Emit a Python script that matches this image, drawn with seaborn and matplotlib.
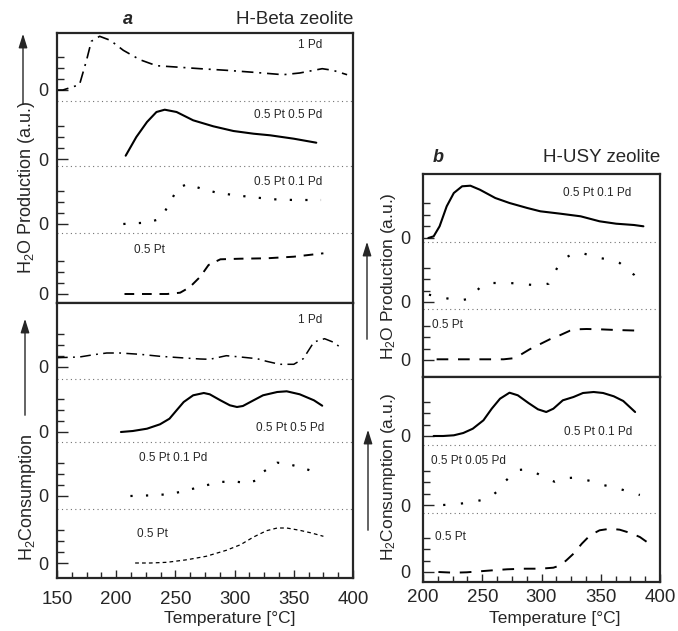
import numpy as np
import pandas as pd
import matplotlib.pyplot as plt
import seaborn as sns

# ---- data (temperature in degC, signal in a.u.) ----

# panel a, H-Beta, H2O production
beta_prod_1pd_t = [150, 155, 169, 175, 179, 186, 195, 206, 220, 234, 254, 271, 293, 316, 341, 355, 374, 383, 395]
beta_prod_1pd_y = [0, 0, 5.3, 30, 48.7, 53.7, 49.7, 39.7, 30.3, 24.3, 22.7, 21.3, 19.7, 17.7, 15.3, 17, 21.3, 19.7, 15.3]
beta_prod_55_t = [208, 217, 226, 234, 241, 251, 265, 282, 299, 316, 330, 350, 369]
beta_prod_55_y = [3.3, 22, 37, 47, 49.3, 47, 38.7, 32.7, 28, 25.3, 23.7, 20.3, 16.3]
beta_prod_51_t = [206, 214, 226, 234, 241, 245, 252, 260, 271, 285, 299, 316, 333, 350, 373]
beta_prod_51_y = [0, 0.7, 1.3, 4, 12.3, 20.7, 35.7, 40, 35.7, 31.3, 29, 26.7, 24.7, 24, 24]
beta_prod_pt_t = [207, 226, 243, 254, 262, 271, 278, 288, 305, 327, 350, 375]
beta_prod_pt_y = [0, 0, 0, 1.3, 6.7, 17.3, 29, 34.7, 35.3, 35.7, 37.3, 40.7]

# panel a, H-Beta, H2 consumption
beta_cons_1pd_t = [150, 169, 181, 192, 203, 220, 237, 254, 271, 279, 293, 305, 319, 327, 338, 350, 358, 367, 376, 383, 389]
beta_cons_1pd_y = [9.3, 10, 12.3, 14, 14, 12.7, 10.7, 9.3, 8, 7.7, 11.3, 10, 8.3, 5.7, 2.7, 2.7, 8.3, 25, 28.3, 25, 20]
beta_cons_55_t = [204, 214, 226, 237, 245, 251, 257, 265, 274, 279, 288, 296, 302, 307, 316, 324, 336, 344, 355, 367, 374]
beta_cons_55_y = [0, 1, 3.3, 7.7, 13.3, 21.7, 30, 36.7, 39, 37.7, 31.7, 26.7, 25, 26, 31.7, 36.7, 40, 40.7, 37.7, 31.7, 26.3]
beta_cons_51_t = [212, 220, 231, 243, 254, 265, 276, 288, 299, 310, 319, 324, 336, 344, 355, 368]
beta_cons_51_y = [0, 0.3, 0.7, 1.7, 4, 7.3, 10.7, 14, 14.7, 13, 15.7, 24, 33.3, 32.3, 29, 24]
beta_cons_pt_t = [216, 229, 243, 260, 276, 293, 305, 316, 327, 336, 344, 355, 365, 375]
beta_cons_pt_y = [0, 0, 0.7, 3.3, 6.7, 12.7, 18.3, 26, 32.3, 35, 35, 32.7, 30, 26.7]

# panel b, H-USY, H2O production
usy_prod_51_t = [204.5, 209, 214, 220, 226, 233, 240, 248, 261, 273, 288, 299, 316, 333, 349, 363, 378, 386]
usy_prod_51_y = [0, 1.7, 11.7, 31.7, 45, 51.7, 52.3, 48.3, 40, 35, 30, 26.7, 24.3, 21.7, 16.7, 14.3, 13, 11.7]
usy_prod_dot_t = [205, 214, 223, 230, 238, 244, 250, 257, 265, 273, 282, 290, 297, 306, 310, 314, 320, 326, 334, 342, 349, 358, 366, 378, 381]
usy_prod_dot_y = [7.3, 5, 3, 1.3, 3, 9.7, 16.7, 19, 19, 19, 18.3, 17.3, 16.7, 18.3, 27.3, 35.7, 44, 48, 49, 46.3, 44, 42.3, 39, 27.3, 18.3]
usy_prod_pt_t = [211.5, 231, 251, 268, 276, 282, 290, 299, 307, 316, 324, 330, 338, 349, 363, 384]
usy_prod_pt_y = [0.7, 0.7, 0.7, 0.7, 1.7, 5, 10.7, 16, 20.7, 25, 29.3, 30.7, 31, 30.7, 30, 29.3]

# panel b, H-USY, H2 consumption
usy_cons_51_t = [209, 217, 226, 234, 242, 251, 258, 265, 273, 280, 289, 297, 304, 310, 318, 327, 335, 344, 352, 361, 369, 379]
usy_cons_51_y = [0, 0, 0.7, 3, 7.3, 15.7, 27.3, 37.3, 43.3, 40.7, 33, 26.7, 24, 27.3, 35.7, 39, 43, 44, 43, 39.7, 35, 24]
usy_cons_505_t = [217, 226, 234, 241, 250, 258, 264, 269, 275, 280, 288, 296, 304, 311, 318, 327, 335, 344, 352, 361, 369, 376, 383]
usy_cons_505_y = [0, 0.7, 1.7, 3, 5, 9, 15, 23.3, 30, 35, 35.7, 31.7, 26.7, 23.3, 26.7, 27.3, 25.7, 23.3, 20, 17.7, 15, 12.3, 10]
usy_cons_pt_t = [213, 226, 237, 248, 259, 271, 285, 299, 310, 316, 321, 327, 334, 341, 349, 358, 366, 375, 383, 391]
usy_cons_pt_y = [0, -0.7, -0.3, 0.7, 1.7, 2.7, 3.3, 3.3, 4.3, 6.7, 11.7, 18.3, 28.3, 36.7, 41.7, 43.3, 42.3, 39, 35, 28.3]

# ---- styles ----
dashdot = (0, (7, 3.5, 1.2, 3.5))
dots = (0, (1, 6))
dashes = (0, (5, 4))

W, H = 678, 631
sns.set_style('ticks')
plt.rcParams['font.family'] = ['Liberation Sans', 'DejaVu Sans']
plt.rcParams['mathtext.default'] = 'regular'

fig = plt.figure(figsize=(W / 100, H / 100), dpi=100)


def px_axes(left, top, right, bottom):
    return fig.add_axes([left / W, 1 - bottom / H, (right - left) / W, (bottom - top) / H])


def draw_stack(ax, traces, zeros, seps, ylim, xlim, step, labels):
    for (t, y, ls, lw), z in zip(traces, zeros):
        df = pd.DataFrame({'T': t, 'S': np.array(y) + z})
        sns.lineplot(data=df, x='T', y='S', ax=ax, color='black', linestyle=ls,
                     linewidth=lw, sort=False, estimator=None)
    for s in seps:
        ax.axhline(s, color='0.45', lw=0.8, linestyle=(0, (1, 3)))
    for (tx, ty, txt) in labels:
        ax.text(tx, ty, txt, fontsize=8.5, ha='center', va='center')
    ax.set_xlim(xlim)
    ax.set_ylim(ylim)
    ax.set_yticks(zeros)
    ax.set_yticklabels(['0'] * len(zeros), fontsize=13)
    ax.set_yticks([z + k * step for z in zeros for k in (1, 2, 3) if z + k * step < ylim[1]], minor=True)
    ax.set_xlabel('')
    ax.set_ylabel('')
    ax.tick_params(axis='y', which='major', direction='in', length=8, width=1, pad=6)
    ax.tick_params(axis='y', which='minor', direction='in', length=5, width=1)
    ax.tick_params(axis='x', which='major', direction='in', length=6, width=1, labelsize=13.5, pad=9)
    ax.tick_params(axis='x', which='minor', direction='in', length=4, width=1)
    for sp in ax.spines.values():
        sp.set_linewidth(1.6)
        sp.set_visible(True)


# panel a
ax_at = px_axes(57, 33, 353, 303)
ax_ab = px_axes(57, 303, 353, 578)
draw_stack(ax_at,
           [(beta_prod_1pd_t, beta_prod_1pd_y, dashdot, 1.2),
            (beta_prod_55_t, beta_prod_55_y, '-', 1.5),
            (beta_prod_51_t, beta_prod_51_y, dots, 1.6),
            (beta_prod_pt_t, beta_prod_pt_y, dashes, 1.4)],
           [213, 144, 79, 9], [202, 137, 70], (0, 270), (150, 400), 11,
           [(364, 258, '1 Pd'), (345, 188, '0.5 Pt 0.5 Pd'), (345, 121, '0.5 Pt 0.1 Pd'), (228, 53, '0.5 Pt')])
draw_stack(ax_ab,
           [(beta_cons_1pd_t, beta_cons_1pd_y, dashdot, 1.1),
            (beta_cons_55_t, beta_cons_55_y, '-', 1.5),
            (beta_cons_51_t, beta_cons_51_y, dots, 1.6),
            (beta_cons_pt_t, beta_cons_pt_y, (0, (3, 2.5)), 0.9)],
           [211, 146, 82, 15], [199, 136, 69], (0, 275), (150, 400), 11,
           [(364, 258, '1 Pd'), (347, 150, '0.5 Pt 0.5 Pd'), (248, 120, '0.5 Pt 0.1 Pd'), (231, 44, '0.5 Pt')])

# panel b
ax_bt = px_axes(423, 174, 660, 377)
ax_bb = px_axes(423, 377, 660, 582)
draw_stack(ax_bt,
           [(usy_prod_51_t, usy_prod_51_y, '-', 1.5),
            (usy_prod_dot_t, usy_prod_dot_y, (0, (1, 7)), 1.6),
            (usy_prod_pt_t, usy_prod_pt_y, (0, (6, 5)), 1.4)],
           [139, 75, 17], [135, 68], (0, 203), (200, 400), 11.5,
           [(347, 184, '0.5 Pt 0.1 Pd'), (221, 52, '0.5 Pt')])
draw_stack(ax_bb,
           [(usy_cons_51_t, usy_cons_51_y, '-', 1.5),
            (usy_cons_505_t, usy_cons_505_y, (0, (1, 7)), 1.6),
            (usy_cons_pt_t, usy_cons_pt_y, (0, (6, 5)), 1.4)],
           [146, 77, 10], [137, 69], (0, 205), (200, 400), 11.5,
           [(348, 150, '0.5 Pt 0.1 Pd'), (238, 121, '0.5 Pt 0.05 Pd'), (223, 45, '0.5 Pt')])

for ax in (ax_at, ax_bt):
    ax.tick_params(axis='x', which='both', bottom=False, labelbottom=False)
ax_ab.set_xticks([150, 200, 250, 300, 350, 400])
ax_ab.set_xticks(np.arange(150, 401, 12.5), minor=True)
ax_bb.set_xticks([200, 250, 300, 350, 400])
ax_bb.set_xticks(np.arange(200, 401, 12.5), minor=True)
ax_bb.tick_params(axis='x', which='major', pad=5)
ax_bt.tick_params(axis='y', which='major', pad=9)
ax_bb.tick_params(axis='y', which='major', pad=9)


def ftext(x, y, s, **kw):
    fig.text(x / W, 1 - y / H, s, **kw)


def farrow(x, y0, y1):
    fig.add_artist(plt.matplotlib.patches.FancyArrowPatch(
        (x / W, 1 - y0 / H), (x / W, 1 - y1 / H), transform=fig.transFigure,
        arrowstyle='-|>,head_length=0.7,head_width=0.22', mutation_scale=12,
        color='0.15', lw=1.0))


# titles
ftext(128, 20, 'a', fontsize=13, fontweight='bold', fontstyle='italic', ha='center', va='center')
ftext(353, 20, 'H-Beta zeolite', fontsize=13.5, ha='right', va='center')
ftext(438, 158, 'b', fontsize=13, fontweight='bold', fontstyle='italic', ha='center', va='center')
ftext(660, 158, 'H-USY zeolite', fontsize=13.5, ha='right', va='center')

# axis labels
ftext(230, 618, 'Temperature [°C]', fontsize=12.5, ha='center', va='center')
ftext(555, 618, 'Temperature [°C]', fontsize=12.5, ha='center', va='center')
ftext(27, 187, 'H$_2$O Production (a.u.)', fontsize=13, rotation=90, ha='center', va='center')
ftext(27, 497, 'H$_2$Consumption', fontsize=13, rotation=90, ha='center', va='center')
ftext(388, 276, 'H$_2$O Production (a.u.)', fontsize=12.5, rotation=90, ha='center', va='center')
ftext(388, 477, 'H$_2$Consumption (a.u.)', fontsize=12.5, rotation=90, ha='center', va='center')

farrow(23, 107, 31)
farrow(25, 418, 316)
farrow(367, 342, 239)
farrow(368, 533, 427)

fig.savefig('out.png', dpi=100)
